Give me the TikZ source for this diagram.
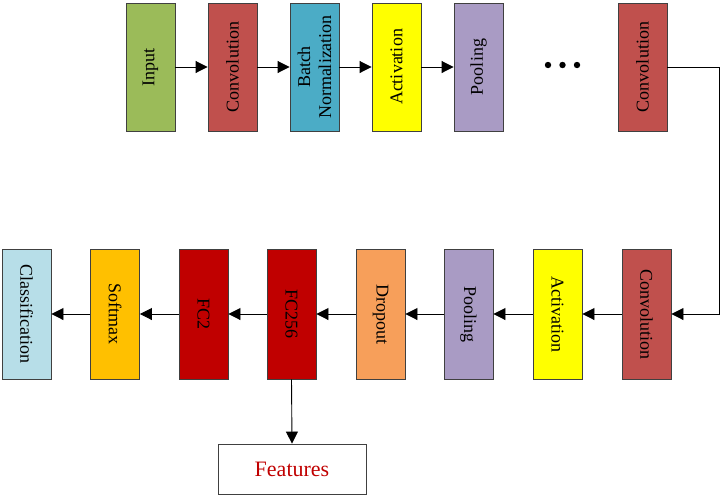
\documentclass[tikz,border=0pt]{standalone}
\usepackage{fontspec}
\setmainfont{Liberation Serif}
\usetikzlibrary{arrows.meta}
\definecolor{cgreen}{HTML}{9BBB59}
\definecolor{cconv}{HTML}{C0504D}
\definecolor{cbn}{HTML}{4BACC6}
\definecolor{cact}{HTML}{FFFF00}
\definecolor{cpool}{HTML}{A99BC4}
\definecolor{cdrop}{HTML}{F79F5A}
\definecolor{csoft}{HTML}{FFC000}
\definecolor{cfc}{HTML}{C00000}
\definecolor{cclass}{HTML}{B7DEE8}
\definecolor{cborder}{HTML}{404040}
\begin{document}
\begin{tikzpicture}[x=1pt,y=1pt,
  layer/.style={draw=cborder,line width=0.9pt,minimum height=49pt,inner sep=0pt,font=\fontsize{18}{21}\selectfont,align=center},
  toplayer/.style={layer,minimum width=128pt,rotate=90},
  botlayer/.style={layer,minimum width=130pt,rotate=-90},
  arr/.style={draw=black,line width=0.9pt,-{Triangle[length=12pt,width=12pt]}}]
\useasboundingbox (0,0) rectangle (722,-496);
% top row
\node[toplayer,fill=cgreen] (t1) at (150.5,-67) {Input};
\node[toplayer,fill=cconv] (t2) at (232.5,-67) {Convolution};
\node[toplayer,fill=cbn] (t3) at (314.5,-67) {Batch\\Normalization};
\node[toplayer,fill=cact] (t4) at (396.5,-67) {Activation};
\node[toplayer,fill=cpool] (t5) at (478.5,-67) {Pooling};
\node[toplayer,fill=cconv] (t6) at (642.5,-67) {Convolution};
\fill (548,-65) circle (3.2pt);
\fill (562.5,-65) circle (3.2pt);
\fill (577,-65) circle (3.2pt);
% bottom row
\node[botlayer,fill=cconv] (b1) at (646.5,-314) {Convolution};
\node[botlayer,fill=cact] (b2) at (557.5,-314) {Activation};
\node[botlayer,fill=cpool] (b3) at (468.5,-314) {Pooling};
\node[botlayer,fill=cdrop] (b4) at (380.5,-314) {Dropout};
\node[botlayer,fill=cfc] (b5) at (291.5,-314) {FC256};
\node[botlayer,fill=cfc] (b6) at (203.5,-314) {FC2};
\node[botlayer,fill=csoft] (b7) at (115,-314) {Softmax};
\node[botlayer,fill=cclass] (b8) at (26.5,-314) {Classification};
\node[draw=cborder,line width=0.9pt,minimum width=148pt,minimum height=50pt,inner sep=0pt,
  font=\fontsize{22}{26}\selectfont,text=cfc] (feat) at (292,-469) {Features};
% connectors
\draw[arr] (t1) -- (t2);
\draw[arr] (t2) -- (t3);
\draw[arr] (t3) -- (t4);
\draw[arr] (t4) -- (t5);
\coordinate (rt) at (719,-67);
\draw[arr] (t6.south) -- (rt) |- (b1.north);
\draw[arr] (b1) -- (b2);
\draw[arr] (b2) -- (b3);
\draw[arr] (b3) -- (b4);
\draw[arr] (b4) -- (b5);
\draw[arr] (b5) -- (b6);
\draw[arr] (b6) -- (b7);
\draw[arr] (b7) -- (b8);
\draw[arr] (b5.east) -- (feat.north);
\end{tikzpicture}
\end{document}
